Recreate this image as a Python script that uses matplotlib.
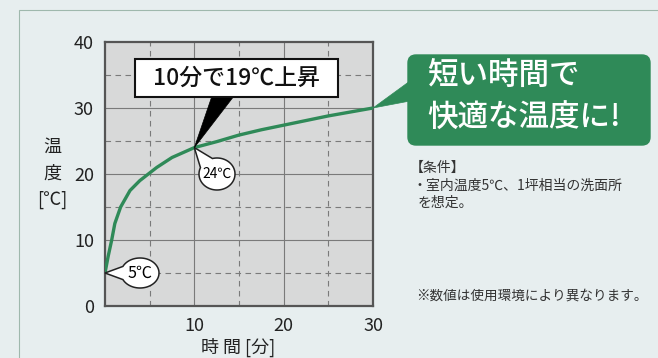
import numpy as np
import matplotlib.pyplot as plt
from matplotlib.patches import Polygon, FancyBboxPatch, Rectangle

plt.rcParams['font.family'] = ['Noto Sans CJK JP', 'DejaVu Sans']

# temperature rise
time_min = [0, 0.35, 0.75, 1.1, 1.75, 2.8, 3.9, 4.85, 5.8, 7.5, 10,
            12.5, 15, 17.5, 20, 22.5, 25, 27.5, 30]
temp_c = [5, 7.5, 10.0, 12.5, 15.0, 17.5, 19.0, 20.0, 21.0, 22.5, 24.0,
          24.9, 25.9, 26.7, 27.4, 28.1, 28.8, 29.4, 30.0]
x_ticks = [10, 20, 30]
y_ticks = [0, 10, 20, 30, 40]

GREEN = '#2f8a58'
W, H = 658, 358

fig = plt.figure(figsize=(W / 100, H / 100), dpi=100)
fig.patch.set_facecolor('#e7eeef')


def px(x, y):
    # top-left pixel -> inches for dpi_scale_trans
    return (x / 100, (H - y) / 100)


def disp_to_px(p):
    return (p[0], H - p[1])


# outer frame
frame = Rectangle(px(19, 360), (W - 16) / 100, 350 / 100, transform=fig.dpi_scale_trans,
                  fill=False, ec='#9fb8ad', lw=0.8)
fig.add_artist(frame)

ax = fig.add_axes([105 / W, 1 - 306 / H, 268 / W, 264 / H])
ax.set_facecolor('#d8d9d9')
ax.set_xlim(0, 30)
ax.set_ylim(0, 40)
ax.set_xticks(x_ticks)
ax.set_yticks(y_ticks)
ax.tick_params(length=0, labelsize=13, pad=8, labelcolor='#222')
for s in ax.spines.values():
    s.set_color('#555')
    s.set_linewidth(1.6)

for v in [10, 20]:
    ax.axvline(v, color='#7a7a7a', lw=0.8, zorder=1)
for v in [5, 15, 25]:
    ax.axvline(v, color='#7a7a7a', lw=0.8, ls=(0, (5, 4)), zorder=1)
for v in [10, 20, 30]:
    ax.axhline(v, color='#7a7a7a', lw=0.8, zorder=1)
for v in [5, 15, 25, 35]:
    ax.axhline(v, color='#7a7a7a', lw=0.8, ls=(0, (5, 4)), zorder=1)

ax.plot(time_min, temp_c, color=GREEN, lw=2.4, zorder=3, solid_capstyle='butt',
        solid_joinstyle='round')

fig.canvas.draw()
p0 = disp_to_px(ax.transData.transform((time_min[0], temp_c[0])))
p10 = disp_to_px(ax.transData.transform((time_min[10], temp_c[10])))
p30 = disp_to_px(ax.transData.transform((time_min[-1], temp_c[-1])))

# axis labels
for txt, y in [('温', 147), ('度', 174), ('[℃]', 200)]:
    fig.text(52 / W, 1 - y / H, txt, ha='center', va='center', fontsize=13, color='#222')
fig.text(238 / W, 1 - 347 / H, '時 間 [分]', ha='center', va='center', fontsize=13, color='#222')


def bubble(cx, cy, rx, ry, tip, label, fs):
    ang = np.arctan2(-(tip[1] - cy), tip[0] - cx)
    d = np.deg2rad(26)
    th = np.linspace(ang + d, ang + 2 * np.pi - d, 90)
    pts = [px(cx + rx * np.cos(t), cy - ry * np.sin(t)) for t in th]
    pts.append(px(*tip))
    fig.add_artist(Polygon(pts, closed=True, transform=fig.dpi_scale_trans,
                           fc='white', ec='#222', lw=1.1, zorder=5))
    fig.text(cx / W, 1 - cy / H, label, ha='center', va='center', fontsize=fs, zorder=6)


bubble(140, 273, 19, 15, p0, '5℃', 11.5)
bubble(217, 174, 18, 16, p10, '24℃', 10)

# headline box with black pointer
fig.add_artist(Polygon([px(212, 96), px(234, 96), px(*p10)], closed=True,
                       transform=fig.dpi_scale_trans, fc='black', ec='black', lw=0.5, zorder=5))
fig.add_artist(Rectangle(px(135, 97), 203 / 100, 38 / 100, transform=fig.dpi_scale_trans,
                         fc='white', ec='#111', lw=1.5, zorder=6))
fig.text(236 / W, 1 - 78 / H, '10分で19℃上昇', ha='center', va='center', fontsize=16.5,
         fontweight='medium', color='#111', zorder=7)

# green speech bubble
fig.add_artist(Polygon([px(*p30), px(410, 81), px(410, 101)], closed=True,
                       transform=fig.dpi_scale_trans, fc=GREEN, ec=GREEN, lw=0.5, zorder=5))
fig.add_artist(FancyBboxPatch(px(408, 145), 242 / 100, 90 / 100,
                              boxstyle='round,pad=0,rounding_size=0.08',
                              transform=fig.dpi_scale_trans, fc=GREEN, ec=GREEN, zorder=5))
fig.text(427 / W, 1 - 75 / H, '短い時間で', ha='left', va='center', fontsize=22,
         fontweight='medium', color='white', zorder=6)
fig.text(427 / W, 1 - 118 / H, '快適な温度に!', ha='left', va='center', fontsize=22,
         fontweight='medium', color='white', zorder=6)

# notes
fig.text(410 / W, 1 - 168 / H, '【条件】', ha='left', va='center', fontsize=10, color='#333')
fig.text(412 / W, 1 - 186 / H, '・室内温度5℃、1坪相当の洗面所', ha='left', va='center',
         fontsize=10, color='#333')
fig.text(418 / W, 1 - 203 / H, 'を想定。', ha='left', va='center', fontsize=10, color='#333')
fig.text(648 / W, 1 - 296 / H, '※数値は使用環境により異なります。', ha='right', va='center',
         fontsize=9.8, color='#333')

fig.savefig('out.png', dpi=100, facecolor=fig.get_facecolor())
